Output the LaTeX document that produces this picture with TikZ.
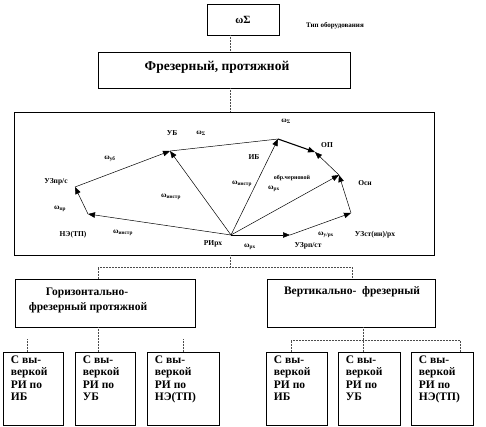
\documentclass[tikz,border=0pt]{standalone}
\usepackage{fontspec}
\setmainfont{Liberation Serif}
\usetikzlibrary{arrows.meta,positioning}
\newcommand{\om}[1]{ω\textsubscript{#1}}

\begin{document}
\begin{tikzpicture}[x=1pt,y=-1pt,
    box/.style={draw,line width=0.6pt,inner sep=0pt},
    btext/.style={font=\fontsize{11.5}{15}\selectfont\bfseries,align=left,inner sep=0pt},
    sbox/.style={draw,line width=0.6pt,minimum height=73pt,inner sep=0pt},
    stext/.style={font=\fontsize{11.5}{12.4}\selectfont\bfseries,align=left,inner sep=0pt,anchor=north west},
    link/.style={densely dotted,line width=0.5pt,black!70},
    vec/.style={-{Triangle[length=7pt,width=5.5pt]},line width=0.5pt},
    lbl/.style={font=\fontsize{7.5}{8}\selectfont\bfseries,inner sep=0pt}]
  \useasboundingbox (0,0) rectangle (486,426);

  % top blocks
  \node[box,minimum width=72pt,minimum height=31pt,font=\fontsize{11}{13}\selectfont\bfseries] (top) at (243,19.5) {ωΣ};
  \node[lbl,font=\fontsize{7}{7}\selectfont\bfseries] (kind) at (335,26) {Тип оборудования};
  \node[box,minimum width=252pt,minimum height=36pt] (mill) at (224,70) {};
  \node[btext,font=\fontsize{13.5}{15}\selectfont\bfseries] (milltxt) at (217,67) {Фрезерный, протяжной};
  \node[box,minimum width=420pt,minimum height=143pt] (frame) at (224,183.5) {};

  \coordinate (spine) at (230,0);
  \draw[link] (top.south -| spine) -- (mill.north -| spine);
  \draw[link] (mill.south -| spine) -- (frame.north -| spine);

  % vector scheme
  \coordinate (ri) at (231,235);
  \coordinate (ub) at (170,151);
  \coordinate (ne) at (88,214);
  \coordinate (uz) at (75,187);
  \coordinate (ib) at (278,139);
  \coordinate (op) at (315,152);
  \coordinate (osn) at (339,175);
  \coordinate (uzst) at (351,213);
  \coordinate (uzrp) at (290,235);
  \foreach \a/\b in {ri/ne,ne/uz,uz/ub,ri/ub,ri/ib,ri/osn,uzst/osn,osn/op,uzrp/uzst,ri/uzrp} {
    \draw[vec] (\a) -- (\b);
  }
  \draw[line width=0.5pt] (ub) -- (ib);
  \draw[vec,line width=1.1pt] (ib) -- (op);

  \node[lbl] (lub) at (172,133) {УБ};
  \node[lbl] (lsum1) at (201,133) {\om{Σ}};
  \node[lbl] (lib) at (254,157) {ИБ};
  \node[lbl] (lsum2) at (286,121) {\om{Σ}};
  \node[lbl] (lop) at (327,145) {ОП};
  \node[lbl] (losn) at (365,183) {Осн};
  \node[lbl,font=\fontsize{6}{6}\selectfont\bfseries] (lrough) at (292,178) {обр.черновой};
  \node[lbl] (lrx1) at (274,189) {\om{рх}};
  \node[lbl] (luzrp) at (308,246) {УЗрп/ст};
  \node[lbl] (lurx) at (326,235) {\om{у/рх}};
  \node[lbl] (luzst) at (375,235) {УЗст(ин)/рх};
  \node[lbl] (lrx2) at (250,247) {\om{рх}};
  \node[lbl] (lri) at (213,244) {РИрх};
  \node[lbl] (lne) at (73,235) {НЭ(ТП)};
  \node[lbl] (lin1) at (123,233) {\om{инстр}};
  \node[lbl] (lin2) at (171,197) {\om{инстр}};
  \node[lbl] (lin3) at (242,184) {\om{инстр}};
  \node[lbl] (lpr) at (60,209) {\om{пр}};
  \node[lbl] (luz) at (56,182) {УЗпр/с};
  \node[lbl] (lub2) at (110,159) {\om{уб}};

  % machine types
  \node[box,minimum width=180pt,minimum height=48pt] (hor) at (105,303) {};
  \node[btext] (hortxt) at (88,300.5) {\hspace*{17pt}Горизонтально-\\фрезерный протяжной};
  \node[box,minimum width=168pt,minimum height=48pt] (ver) at (351,303) {};
  \node[btext] (vertxt) at (352,292) {Вертикально-\ \ фрезерный};

  \coordinate (fork) at (230,267);
  \coordinate (jl) at (98,267);
  \coordinate (jr) at (352,267);
  \draw[link] (frame.south -| spine) -- (fork);
  \draw[link] (hor.north -| jl) -- (jl) -- (jr) -- (ver.north -| jr);

  % cutters
  \foreach \n/\cx/\w/\base in {1/33/60/ИБ,2/105/60/УБ,3/183/72/НЭ(ТП),4/296.5/61/ИБ,5/369/62/УБ,6/442/62/НЭ(ТП)} {
    \node[sbox,minimum width=\w pt] (s\n) at (\cx,388.5) {};
    \node[stext] (t\n) at ([shift={(8pt,-4pt)}]s\n.north west) {С вы-\\веркой\\РИ по\\\base};
  }

  \coordinate (a1) at (27,339);
  \coordinate (a3) at (183,339);
  \draw[link] (a1) -- (a1 |- s1.north);
  \draw[link] (a3) -- (a3 |- s3.north);
  \draw[link] (hor.south -| jl) -- (jl |- s2.north);

  \coordinate (b4) at (291,340);
  \coordinate (b5) at (363,340);
  \coordinate (b6) at (460,340);
  \draw[link] (ver.south -| b5) -- (b5 |- s5.north);
  \draw[link] (b4 |- s4.north) -- (b4) -- (b6) -- (b6 |- s6.north);
\end{tikzpicture}
\end{document}
